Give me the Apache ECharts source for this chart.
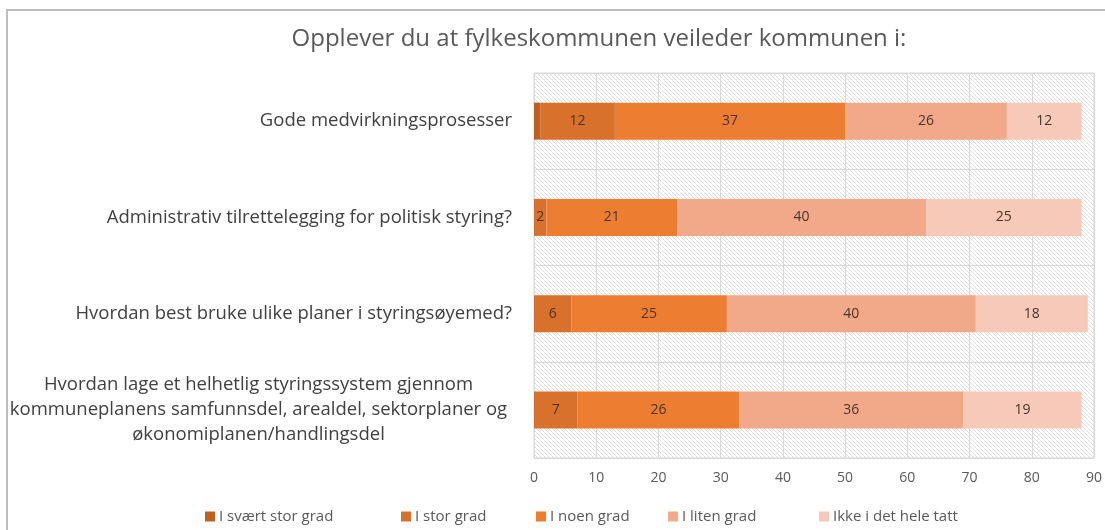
<!DOCTYPE html>
<html lang="no">
<head>
  <meta charset="UTF-8">
  <title>Veiledning</title>
  <style>
    html, body { margin: 0; padding: 0; background: #fff; }
  </style>
</head>
<body>
  <div id="main" style="width:1105px;height:530px"></div>
  <script src="https://cdn.jsdelivr.net/npm/echarts@6/dist/echarts.min.js"></script>
  <script>
    // data
    var categories = [
      'Gode medvirkningsprosesser',
      'Administrativ tilrettelegging for politisk styring?',
      'Hvordan best bruke ulike planer i styringsøyemed?',
      'Hvordan lage et helhetlig styringssystem gjennom\nkommuneplanens samfunnsdel, arealdel, sektorplaner og\nøkonomiplanen/handlingsdel'
    ];
    var seriesNames = ['I svært stor grad', 'I stor grad', 'I noen grad', 'I liten grad', 'Ikke i det hele tatt'];
    var svaertStor = [1, 0, 0, 0];
    var stor = [12, 2, 6, 7];
    var noen = [37, 21, 25, 26];
    var liten = [26, 40, 40, 36];
    var ikke = [12, 25, 18, 19];
    var xTicks = [0, 10, 20, 30, 40, 50, 60, 70, 80, 90];

    var colors = ['#C0601F', '#D8712C', '#ED7D31', '#F1A98A', '#F6C9B9'];
    var font = 'Open Sans';
    // legend-plassering (venstre kant av fargeruten)
    var legendLeft = [205, 401, 536, 668, 819];

    // skravert bakgrunn
    var pat = document.createElement('canvas');
    pat.width = 4; pat.height = 4;
    var pctx = pat.getContext('2d');
    pctx.fillStyle = '#fff';
    pctx.fillRect(0, 0, 4, 4);
    pctx.fillStyle = '#dcdcdc';
    for (var i = 0; i < 4; i++) pctx.fillRect(i, i, 1, 1);

    var myChart = echarts.init(document.getElementById('main'));

    function mk(name, data, idx) {
      return {
        name: name,
        type: 'bar',
        stack: 'total',
        barWidth: 37,
        data: data,
        itemStyle: { color: colors[idx] },
        label: {
          show: true,
          color: '#4a3428',
          fontFamily: font,
          fontSize: 14,
          formatter: function (p) { return p.value >= 2 ? p.value : ''; }
        }
      };
    }

    var legends = seriesNames.map(function (n, k) {
      return {
        bottom: 6,
        left: legendLeft[k],
        itemWidth: 10,
        itemHeight: 10,
        icon: 'rect',
        padding: 0,
        textStyle: { fontFamily: font, fontSize: 15, color: '#595959', padding: [0, 0, 0, -1] },
        data: [n]
      };
    });

    var option = {
      animation: false,
      title: {
        text: 'Opplever du at fylkeskommunen veileder kommunen i:',
        left: 594,
        textAlign: 'center',
        top: 22,
        textStyle: { fontFamily: font, fontSize: 24, fontWeight: 'normal', color: '#595959' }
      },
      graphic: [{
        type: 'rect',
        shape: { x: 7, y: 10, width: 1120, height: 540 },
        style: { fill: 'none', stroke: '#bdbdbd', lineWidth: 2 },
        silent: true
      }],
      legend: legends,
      grid: {
        left: 534,
        right: 5,
        top: 73,
        bottom: 72,
        show: true,
        backgroundColor: { image: pat, repeat: 'repeat' },
        borderColor: '#d9d9d9',
        borderWidth: 1
      },
      xAxis: {
        type: 'value',
        min: 0,
        max: 90,
        interval: 10,
        axisLine: { show: false },
        axisTick: { show: false },
        splitLine: { lineStyle: { color: '#d9d9d9' } },
        axisLabel: {
          fontFamily: font, fontSize: 14, color: '#595959', margin: 13,
          formatter: function (v) { return xTicks.indexOf(v) >= 0 ? String(v) : ''; }
        }
      },
      yAxis: {
        type: 'category',
        inverse: true,
        data: categories,
        axisLine: { show: false },
        axisTick: { show: false },
        splitLine: { show: true, lineStyle: { color: '#d9d9d9' } },
        axisLabel: {
          margin: 22,
          formatter: function (v) {
            var lines = v.split('\n');
            if (lines.length === 1) return '{r|' + v + '}';
            return lines.map(function (l) { return '{c|' + l + '}'; }).join('\n');
          },
          rich: {
            r: { fontFamily: font, fontSize: 18.5, color: '#404040' },
            c: { fontFamily: font, fontSize: 18.5, color: '#404040', width: 507, align: 'center', lineHeight: 25 }
          }
        }
      },
      series: [
        mk(seriesNames[0], svaertStor, 0),
        mk(seriesNames[1], stor, 1),
        mk(seriesNames[2], noen, 2),
        mk(seriesNames[3], liten, 3),
        mk(seriesNames[4], ikke, 4)
      ]
    };
    myChart.setOption(option);
  </script>
</body>
</html>
